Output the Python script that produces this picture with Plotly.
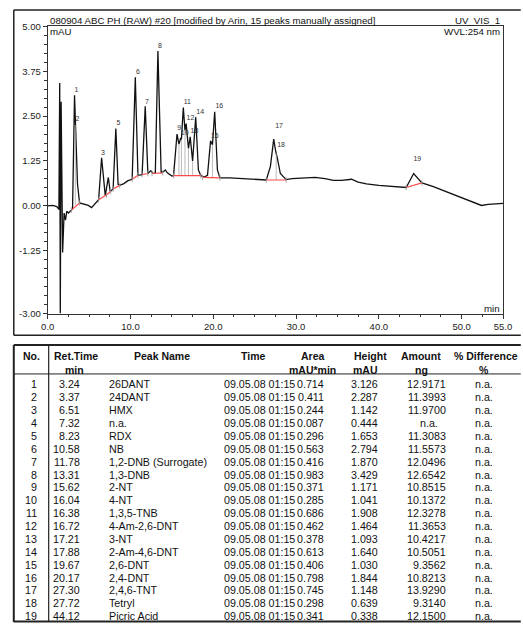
import plotly.graph_objects as go

W, H = 523, 629

# ---------------- chromatogram data ----------------
time_min = [0.0, 0.6, 1.1, 1.35, 1.45, 1.52, 1.62, 1.8, 1.98, 2.15, 2.3, 2.5, 2.85,
            3.0, 3.24, 3.33, 3.37, 3.6, 3.85, 4.3, 4.9, 5.3, 5.6, 6.15, 6.51, 6.95,
            7.32, 7.55, 7.9, 8.23, 8.5, 8.7, 9.2, 9.7, 10.2, 10.58, 10.9, 11.4, 11.78,
            12.1, 12.45, 12.7, 13.0, 13.31, 13.7, 14.0, 14.2, 14.45, 15.0, 15.2, 15.62,
            15.85, 16.04, 16.15, 16.38, 16.58, 16.72, 17.0, 17.21, 17.5, 17.88, 18.2,
            18.5, 18.9, 19.3, 19.67, 19.9, 20.17, 20.5, 20.8, 22.0, 23.5, 25.0, 26.4,
            26.9, 27.3, 27.55, 27.72, 28.1, 28.8, 29.5, 31.0, 32.3, 33.5, 34.5, 35.5,
            36.7, 37.5, 38.5, 40.0, 41.5, 43.3, 44.2, 45.2, 46.5, 47.8, 49.5, 51.0,
            52.4, 53.2, 55.0]
signal_mAU = [0.00, 0.01, -0.02, -0.10, 3.42, -3.00, 2.90, -1.30, -0.20, -0.40, -0.15, -0.20, -0.12,
              -0.08, 3.08, 2.25, 2.30, 0.60, 0.08, 0.05, 0.01, -0.05, 0.02, 0.17, 1.34, 0.28,
              0.79, 0.40, 0.47, 2.15, 0.60, 0.57, 0.62, 0.70, 0.74, 3.58, 0.85, 0.87, 2.77,
              0.90, 0.98, 0.90, 0.92, 4.31, 0.93, 0.95, 1.00, 0.92, 0.83, 0.84, 2.00,
              1.72, 1.87, 1.85, 2.74, 2.10, 2.29, 1.60, 1.92, 1.25, 2.47, 1.00,
              0.84, 0.80, 0.85, 1.81, 1.70, 2.62, 1.00, 0.78, 0.78, 0.76, 0.74, 0.72,
              1.10, 1.86, 1.50, 1.35, 0.90, 0.73, 0.76, 0.78, 0.79, 0.76, 0.71, 0.71,
              0.74, 0.66, 0.61, 0.57, 0.54, 0.51, 0.90, 0.64, 0.54, 0.42, 0.27, 0.13,
              0.01, 0.04, 0.07]

# peak baselines (red): start/end time and level
base_t0 = [2.85, 6.15, 7.10, 7.90, 10.20, 11.40, 12.60, 15.20, 18.70, 26.40, 43.30]
base_v0 = [-0.12, 0.17, 0.31, 0.47, 0.74, 0.87, 0.90, 0.84, 0.79, 0.72, 0.51]
base_t1 = [3.85, 7.10, 7.60, 8.70, 10.90, 12.10, 13.90, 18.50, 20.80, 28.80, 45.20]
base_v1 = [0.08, 0.31, 0.40, 0.57, 0.85, 0.90, 0.92, 0.84, 0.78, 0.72, 0.64]

# peak delimiter drop lines (grey): time, bottom level, top level
drop_t = [3.33, 15.85, 16.15, 16.58, 17.00, 17.50, 19.90, 27.60]
drop_lo = [0.02, 0.84, 0.84, 0.84, 0.84, 0.84, 0.79, 0.72]
drop_hi = [2.25, 1.72, 1.85, 2.10, 1.60, 1.25, 1.70, 1.45]

# peak number labels
label_txt = ["1", "2", "3", "5", "6", "7", "8", "9", "10", "11", "12", "13", "14",
             "15", "16", "17", "18", "19"]
label_t = [3.48, 3.59, 6.67, 8.55, 10.89, 11.98, 13.55, 15.89, 16.55, 16.86, 17.25,
           17.72, 18.42, 20.18, 20.73, 27.95, 28.19, 44.65]
label_v = [3.22, 2.40, 1.47, 2.29, 3.73, 2.88, 4.44, 2.16, 2.01, 2.88, 2.45, 2.07,
           2.61, 1.95, 2.77, 2.22, 1.69, 1.30]

x_tickvals = [0, 10, 20, 30, 40, 50, 55]
x_ticktext = ["0.0", "10.0", "20.0", "30.0", "40.0", "50.0", "55.0"]
y_tickvals = [5, 3.75, 2.5, 1.25, 0, -1.25, -3]
y_ticktext = ["5.00", "3.75", "2.50", "1.25", "0.00", "-1.25", "-3.00"]

# ---------------- table data ----------------
peak_no = list(range(1, 20))
ret_time = [3.24, 3.37, 6.51, 7.32, 8.23, 10.58, 11.78, 13.31, 15.62, 16.04, 16.38,
            16.72, 17.21, 17.88, 19.67, 20.17, 27.30, 27.72, 44.12]
peak_name = ["26DANT", "24DANT", "HMX", "n.a.", "RDX", "NB", "1,2-DNB (Surrogate)",
             "1,3-DNB", "2-NT", "4-NT", "1,3,5-TNB", "4-Am-2,6-DNT", "3-NT",
             "2-Am-4,6-DNT", "2,6-DNT", "2,4-DNT", "2,4,6-TNT", "Tetryl", "Picric Acid"]
inj_time = ["09.05.08 01:15"] * 19
area = [0.714, 0.411, 0.244, 0.087, 0.296, 0.563, 0.416, 0.983, 0.371, 0.285, 0.686,
        0.462, 0.378, 0.613, 0.406, 0.798, 0.745, 0.298, 0.341]
height = [3.126, 2.287, 1.142, 0.444, 1.653, 2.794, 1.870, 3.429, 1.171, 1.041, 1.908,
          1.464, 1.093, 1.640, 1.030, 1.844, 1.148, 0.639, 0.338]
amount = ["12.9171", "11.3993", "11.9700", "n.a.", "11.3083", "11.5573", "12.0496",
          "12.6542", "10.8515", "10.1372", "12.3278", "11.3653", "10.4217", "10.5051",
          "9.3562", "10.8213", "13.9290", "9.3140", "12.1500"]
pct_diff = ["n.a."] * 19

FONT = "Liberation Sans, Arial, sans-serif"


def PX(x):
    return x / W


def PY(y):
    return 1 - y / H


fig = go.Figure()

# main trace
fig.add_trace(go.Scatter(x=time_min, y=signal_mAU, mode="lines",
                         line=dict(color="#111111", width=1.3), hoverinfo="skip"))

# drop lines
for t, lo, hi in zip(drop_t, drop_lo, drop_hi):
    fig.add_trace(go.Scatter(x=[t, t], y=[lo, hi], mode="lines",
                             line=dict(color="#aaaaaa", width=0.8), hoverinfo="skip"))

# baselines + small delimiter ticks
for t0, v0, t1, v1 in zip(base_t0, base_v0, base_t1, base_v1):
    fig.add_trace(go.Scatter(x=[t0, t1], y=[v0, v1], mode="lines",
                             line=dict(color="#ff4a4a", width=1.2), hoverinfo="skip"))
    for t, v in ((t0, v0), (t1, v1)):
        fig.add_trace(go.Scatter(x=[t, t], y=[v - 0.08, v + 0.08], mode="lines",
                                 line=dict(color="#999999", width=0.8), hoverinfo="skip"))

# peak labels
fig.add_trace(go.Scatter(x=label_t, y=label_v, mode="text", text=label_txt,
                         textposition="middle center",
                         textfont=dict(family=FONT, size=7, color="#333333"),
                         hoverinfo="skip"))

axis_common = dict(showline=True, linecolor="#333333", linewidth=1.2, mirror=True,
                   showgrid=False, zeroline=False, ticks="outside", ticklen=4,
                   tickwidth=1, tickcolor="#333333",
                   tickfont=dict(family=FONT, size=9.5, color="#222222"))

fig.update_layout(
    width=W, height=H, margin=dict(l=0, r=0, t=0, b=0),
    paper_bgcolor="white", plot_bgcolor="white", showlegend=False,
    xaxis=dict(domain=[PX(42), PX(511.7)], range=[0, 55], tickvals=x_tickvals,
               ticktext=x_ticktext,
               minor=dict(ticks="outside", ticklen=2.5, tick0=0, dtick=2.5,
                          tickcolor="#333333"),
               **axis_common),
    yaxis=dict(domain=[PY(313), PY(20.7)], range=[-3, 5], tickvals=y_tickvals,
               ticktext=y_ticktext,
               minor=dict(ticks="outside", ticklen=2.5, tick0=0, dtick=0.25,
                          tickcolor="#333333"),
               **axis_common),
)

ann = []


def text(x, y, s, anchor="left", size=10.7, bold=False, color="#111111"):
    ann.append(dict(x=PX(x), y=PY(y), xref="paper", yref="paper", text=s,
                    showarrow=False, xanchor=anchor, yanchor="middle",
                    font=dict(family=FONT, size=size, color=color,
                              weight="bold" if bold else "normal")))


# chart texts
text(42.5, 14.5, "080904 ABC PH (RAW) #20 [modified by Arin, 15 peaks manually assigned]",
     size=9.7)
text(511, 14.5, "UV_VIS_1", anchor="right", size=9.7)
text(511, 26, "WVL:254 nm", anchor="right", size=9.7)
text(42.5, 26, "mAU", size=9.7)
text(511, 307.5, "min", anchor="right", size=9.7)

# table header
hdr_y1, hdr_y2 = 356, 370.5
text(25.3, hdr_y1, "No.", anchor="center", size=10.5, bold=True)
text(71.3, hdr_y1, "Ret.Time", anchor="center", size=10.5, bold=True)
text(69.5, hdr_y2, "min", anchor="center", size=10.5, bold=True)
text(160, hdr_y1, "Peak Name", anchor="center", size=10.5, bold=True)
text(254, hdr_y1, "Time", anchor="center", size=10.5, bold=True)
text(316, hdr_y1, "Area", anchor="center", size=10.5, bold=True)
text(315, hdr_y2, "mAU*min", anchor="center", size=10.5, bold=True)
text(375, hdr_y1, "Height", anchor="center", size=10.5, bold=True)
text(369.5, hdr_y2, "mAU", anchor="center", size=10.5, bold=True)
text(427.5, hdr_y1, "Amount", anchor="center", size=10.5, bold=True)
text(428, hdr_y2, "ng", anchor="center", size=10.5, bold=True)
text(459, hdr_y1, "% Difference", anchor="left", size=10.5, bold=True)
text(492.5, hdr_y2, "%", anchor="center", size=10.5, bold=True)

# table body
for i in range(len(peak_no)):
    y = 385.2 + i * 13.1
    text(32.5, y, str(peak_no[i]), anchor="right")
    text(77, y, f"{ret_time[i]:.2f}", anchor="right")
    text(103, y, peak_name[i], anchor="left")
    text(221.5, y, inj_time[i], anchor="left")
    text(329.5, y, f"{area[i]:.3f}", anchor="right")
    text(384.5, y, f"{height[i]:.3f}", anchor="right")
    if amount[i] == "n.a.":
        text(447, y, amount[i], anchor="right")
    else:
        text(454.5, y, amount[i], anchor="right")
    text(492, y, pct_diff[i], anchor="center")

fig.update_layout(annotations=ann)

# frames / lines
shapes = []


def line(x0, y0, x1, y1, w=1.0, c="#222222"):
    shapes.append(dict(type="line", xref="paper", yref="paper", x0=PX(x0), y0=PY(y0),
                       x1=PX(x1), y1=PY(y1), line=dict(color=c, width=w)))


# chart outer frame
line(7, 4, 530, 4, 1.5)
line(7, 4, 7, 335, 1.5)
line(7, 335, 530, 335, 1.5)
# table frame
line(7, 345, 530, 345, 2)
line(7, 345, 7, 627, 2)
line(7, 626.5, 530, 626.5, 2)
line(7, 374.5, 530, 374.5, 1)
line(43, 345, 43, 627, 1.2)

fig.update_layout(shapes=shapes)

fig.write_html("out.html")
